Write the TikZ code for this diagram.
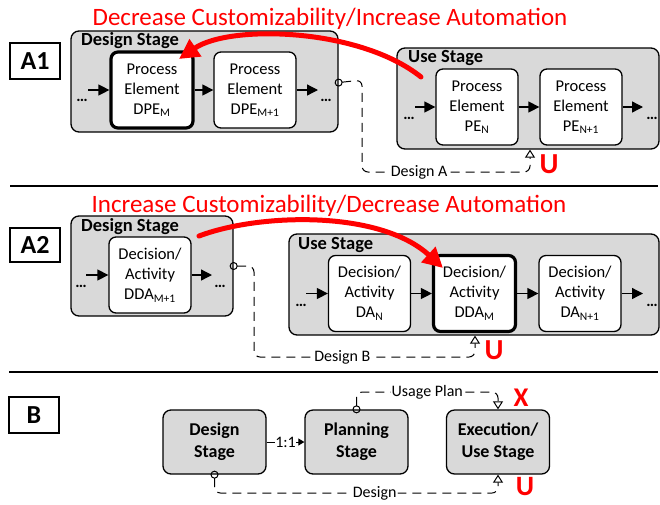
\documentclass[tikz,border=0pt]{standalone}
\usepackage{fontspec}
\setmainfont{Carlito}
\usetikzlibrary{arrows.meta}
\definecolor{stagegray}{HTML}{D9D9D9}
\begin{document}
\begin{tikzpicture}[x=1pt,y=-1pt,
  stagebox/.style={draw, line width=1.3pt, fill=stagegray, rounded corners=8pt, inner sep=0},
  elem/.style={draw, line width=1.3pt, fill=white, rounded corners=7pt, minimum width=82pt, minimum height=76pt, align=center, font=\fontsize{16.5}{20}\selectfont, inner sep=0},
  elemhi/.style={elem, line width=3.2pt},
  bstage/.style={draw, line width=1.3pt, fill=stagegray, rounded corners=8pt, minimum width=103pt, minimum height=64pt, align=center, font=\bfseries\fontsize{18}{22}\selectfont, inner sep=0},
  stagelbl/.style={anchor=west, inner sep=0, font=\bfseries\fontsize{18.5}{20}\selectfont},
  seclbl/.style={draw, line width=1.3pt, minimum width=50pt, minimum height=36pt, inner sep=0, font=\bfseries\fontsize{26}{28}\selectfont},
  dotsn/.style={inner sep=0, font=\bfseries\fontsize{16}{18}\selectfont},
  flow/.style={line width=1.3pt, -{Triangle[length=11pt,width=11pt]}},
  designlink/.style={line width=1pt, dash pattern=on 9pt off 6pt, rounded corners=6pt,
     {Circle[open,length=8pt,width=8pt,line width=1pt]}-{Triangle[open,length=8pt,width=10pt,line width=1pt]}},
  lbl/.style={fill=white, inner sep=1pt, font=\fontsize{16}{18}\selectfont},
  redtitle/.style={text=red, anchor=base, inner sep=0, font=\fontsize{25}{28}\selectfont},
  redmark/.style={text=red, inner sep=0, font=\bfseries\fontsize{29}{30}\selectfont},
  bigred/.style={red, line width=5pt, line cap=round, -{Triangle[length=20pt,width=20pt]}}
]
\useasboundingbox (0,0) rectangle (660,504);

% separators
\draw[line width=1.5pt] (10,186) -- (658,186);
\draw[line width=1.5pt] (9,372) -- (658,372);

% ================= A1 =================
\node[seclbl] (labA1) at (35,61) {A1};
\node[redtitle] (titA1) at (330,25) {Decrease Customizability/Increase Automation};

\node[stagebox, minimum width=267pt, minimum height=101pt] (ds1) at (204.5,81.5) {};
\node[stagelbl] (ds1l) at (81,41) {Design Stage};
\node[elemhi] (dpem) at (152,90) {Process\\Element\\DPE\textsubscript{M}};
\node[elem] (dpem1) at (255,90) {Process\\Element\\DPE\textsubscript{M+1}};
\node[dotsn] (d1a) at (82,100) {…};
\node[dotsn] (d1b) at (326,100) {…};
\coordinate (in1) at (88,90);
\coordinate (out1) at (318,90);
\draw[flow] (in1) -- (dpem);
\draw[flow] (dpem) -- (dpem1);
\draw[flow] (dpem1) -- (out1);

\node[stagebox, minimum width=262pt, minimum height=101pt] (us1) at (528,98.5) {};
\node[stagelbl] (us1l) at (408,58) {Use Stage};
\node[elem] (pen) at (477,107) {Process\\Element\\PE\textsubscript{N}};
\node[elem] (pen1) at (581,107) {Process\\Element\\PE\textsubscript{N+1}};
\node[dotsn] (d1c) at (409,118) {…};
\node[dotsn] (d1d) at (652,118) {…};
\coordinate (in1u) at (415,107);
\coordinate (out1u) at (643,107);
\draw[flow] (in1u) -- (pen);
\draw[flow] (pen) -- (pen1);
\draw[flow] (pen1) -- (out1u);

\draw[designlink] ([xshift=-4pt,yshift=-1.5pt]ds1.east) -- (362,80) -- (362,172)
   -- node[lbl,pos=0.34] {Design A} (530,172) -- ([xshift=2pt]us1.south);
\node[redmark] (u1) at (549,164) {U};

\draw[bigred] (421,77) .. controls (360,28) and (230,24) .. (179,59);

% ================= A2 =================
\node[seclbl, minimum height=34pt] (labA2) at (35,245) {A2};
\node[redtitle] (titA2) at (329,212) {Increase Customizability/Decrease Automation};

\node[stagebox, minimum width=162pt, minimum height=100pt] (ds2) at (152,266) {};
\node[stagelbl] (ds2l) at (81,227) {Design Stage};
\node[elem] (ddam1) at (150,275) {Decision/\\Activity\\DDA\textsubscript{M+1}};
\node[dotsn] (d2a) at (81,286) {…};
\node[dotsn] (d2b) at (220,286) {…};
\coordinate (in2) at (86,275);
\coordinate (out2) at (212,275);
\draw[flow] (in2) -- (ddam1);
\draw[flow] (ddam1) -- (out2);

\node[stagebox, minimum width=370pt, minimum height=101pt] (us2) at (474,284.5) {};
\node[stagelbl] (us2l) at (298,245) {Use Stage};
\node[elem] (dan) at (369.5,293.5) {Decision/\\Activity\\DA\textsubscript{N}};
\node[elemhi] (ddam) at (474.5,293.5) {Decision/\\Activity\\DDA\textsubscript{M}};
\node[elem] (dan1) at (580,293.5) {Decision/\\Activity\\DA\textsubscript{N+1}};
\node[dotsn] (d2c) at (301,305) {…};
\node[dotsn] (d2d) at (652,305) {…};
\coordinate (in2u) at (306,293.5);
\coordinate (out2u) at (643,293.5);
\draw[flow] (in2u) -- (dan);
\draw[flow] (dan) -- (ddam);
\draw[flow] (ddam) -- (dan1);
\draw[flow] (dan1) -- (out2u);

\draw[designlink] ([xshift=-4pt]ds2.east) -- (254,266) -- (254,357)
   -- node[lbl,pos=0.4] {Design B} (475,357) -- ([xshift=1pt]us2.south);
\node[redmark] (u2) at (494,350) {U};

\draw[bigred] (199,236) .. controls (260,213) and (380,210) .. (443,268);

% ================= B =================
\node[seclbl] (labB) at (34,415) {B};
\node[bstage] (dsB) at (214.5,442) {Design\\Stage};
\node[bstage] (plan) at (356.5,442) {Planning\\Stage};
\node[bstage] (exec) at (498,442) {Execution/\\Use Stage};

\draw[line width=1pt, -{Triangle[length=6pt,width=7pt]}] (dsB) -- node[lbl, inner sep=0.5pt] {1:1} (plan);

\draw[designlink] ([yshift=-4pt]plan.north) -- (356.5,392)
   -- node[lbl,pos=0.5] {Usage Plan} (498,392) -- (exec.north);
\node[redmark, font=\bfseries\fontsize{27}{28}\selectfont] (xB) at (521,398) {X};

\draw[designlink] ([yshift=4pt]dsB.south) -- (214.5,493)
   -- node[lbl,pos=0.565] {Design} (498,493) -- (exec.south);
\node[redmark, font=\bfseries\fontsize{28}{29}\selectfont] (uB) at (525,487) {U};
\end{tikzpicture}
\end{document}
